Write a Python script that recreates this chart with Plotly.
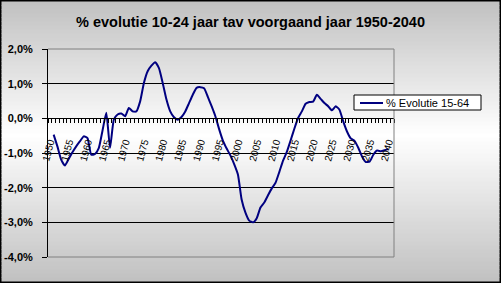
import plotly.graph_objects as go

# ---- data ----
years = list(range(1951, 2041))
evolutie = [
    -0.47, -0.81, -1.19, -1.36, -1.17, -0.98, -0.81, -0.66, -0.52, -0.57,   # 1951-1960
    -1.05, -1.03, -0.86, -0.35, 0.16, -0.85, -0.04, 0.11, 0.14, 0.06,       # 1961-1970
    0.30, 0.20, 0.20, 0.49, 1.02, 1.36, 1.52, 1.62, 1.45, 1.02,             # 1971-1980
    0.54, 0.20, 0.03, -0.04, 0.04, 0.20, 0.44, 0.68, 0.88, 0.90,            # 1981-1990
    0.87, 0.62, 0.35, 0.06, -0.31, -0.64, -0.87, -1.07, -1.32, -1.62,       # 1991-2000
    -2.35, -2.72, -2.95, -3.00, -2.88, -2.57, -2.43, -2.22, -2.02, -1.86,   # 2001-2010
    -1.55, -1.22, -0.97, -0.64, -0.30, 0.01, 0.20, 0.42, 0.47, 0.48,        # 2011-2020
    0.68, 0.56, 0.44, 0.35, 0.23, 0.35, 0.25, -0.09, -0.38, -0.58,          # 2021-2030
    -0.65, -0.85, -1.10, -1.26, -1.25, -1.05, -0.93, -0.95, -0.92, -0.88,   # 2031-2040
]
y_tickvals = [-4, -3, -2, -1, 0, 1, 2]
y_ticktext = ["-4,0%", "-3,0%", "-2,0%", "-1,0%", "0,0%", "1,0%", "2,0%"]
series_name = "% Evolutie 15-64"
title_text = "% evolutie 10-24 jaar tav voorgaand jaar 1950-2040"

# ---- layout geometry (pixels) ----
W, H = 501, 283
L, R, T, B = 48, 107, 49, 26
PW, PH = W - L - R, H - T - B

def px2x(px):
    return (px - L) / PW

def py2y(py):
    return (H - B - py) / PH

FONT = "Liberation Sans, Arial, sans-serif"
LINE_COLOR = "#000080"

fig = go.Figure()
fig.add_trace(go.Scatter(
    x=years, y=evolutie, mode="lines", name=series_name, showlegend=False,
    line=dict(color=LINE_COLOR, width=2, shape="spline", smoothing=0.5),
))

shapes = []
# vertical gradient background (inset so the black paper forms the outer border)
BW = 1.5
n = 70
mid = 135.0
for i in range(n):
    y0p = BW + (H - 2 * BW) * i / n
    y1p = BW + (H - 2 * BW) * (i + 1) / n
    yc = (y0p + y1p) / 2
    t = abs(yc - mid) / (mid if yc < mid else (H - mid))
    v = int(round(255 - t * (255 - 192)))
    col = f"rgb({v},{v},{v})"
    y1e = y1p + 0.5 if i < n - 1 else y1p
    shapes.append(dict(type="rect", xref="paper", yref="paper", layer="below",
                       x0=px2x(BW), x1=px2x(W - BW), y0=py2y(y1e), y1=py2y(y0p),
                       fillcolor=col, line=dict(width=0)))
# plot-area gray border: top, right, bottom
for (xa, ya, xb, yb) in [(0, 1, 1, 1), (1, 0, 1, 1), (0, 0, 1, 0)]:
    shapes.append(dict(type="line", xref="paper", yref="paper", layer="above",
                       x0=xa, y0=ya, x1=xb, y1=yb, line=dict(color="#808080", width=1)))
# legend box + sample line
LG_X0, LG_X1, LG_Y0, LG_Y1 = 354, 481, 95, 110
shapes.append(dict(type="rect", xref="paper", yref="paper", layer="above",
                   x0=px2x(LG_X0), x1=px2x(LG_X1), y0=py2y(LG_Y1), y1=py2y(LG_Y0),
                   fillcolor="white", line=dict(color="black", width=1)))
shapes.append(dict(type="line", xref="paper", yref="paper", layer="above",
                   x0=px2x(360), x1=px2x(383), y0=py2y(103), y1=py2y(103),
                   line=dict(color=LINE_COLOR, width=2)))

annotations = [dict(text=series_name, xref="paper", yref="paper",
                    x=px2x(384), y=py2y(103), xanchor="left", yanchor="middle",
                    showarrow=False, font=dict(family=FONT, size=11, color="black"))]

fig.update_layout(
    width=W, height=H, autosize=False,
    margin=dict(l=L, r=R, t=T, b=B, pad=0, autoexpand=False),
    paper_bgcolor="black",
    plot_bgcolor="#c0c0c0",
    font=dict(family=FONT, color="black"),
    title=dict(text=title_text, x=0.5, xref="container", xanchor="center",
               y=1 - 22 / H, yref="container", yanchor="middle", automargin=False,
               font=dict(family=FONT, size=14.5, color="black", weight="bold")),
    showlegend=False,
    shapes=shapes,
    annotations=annotations,
    xaxis=dict(
        range=[1949.5, 2041.5], anchor="free", automargin=False,
        position=(0 - y_tickvals[0]) / (y_tickvals[-1] - y_tickvals[0]),
        tickmode="linear", tick0=1950, dtick=5, ticks="", tickangle=-75,
        tickfont=dict(family=FONT, size=10, color="black"),
        ticklabelstandoff=13,
        minor=dict(tickmode="linear", tick0=1949.5, dtick=1, ticks="outside",
                   ticklen=4, tickcolor="black", tickwidth=1, showgrid=False),
        showline=True, linecolor="black", linewidth=1,
        showgrid=False, zeroline=False,
    ),
    yaxis=dict(
        range=[y_tickvals[0], y_tickvals[-1]], automargin=False,
        tickmode="array", tickvals=y_tickvals, ticktext=y_ticktext,
        ticks="outside", ticklen=5, tickcolor="black",
        ticklabelstandoff=7,
        tickfont=dict(family=FONT, size=11, color="black", weight="bold"),
        showline=True, linecolor="black", linewidth=1,
        showgrid=True, gridcolor="black", gridwidth=1, zeroline=False,
    ),
)

fig.write_html("out.html")
